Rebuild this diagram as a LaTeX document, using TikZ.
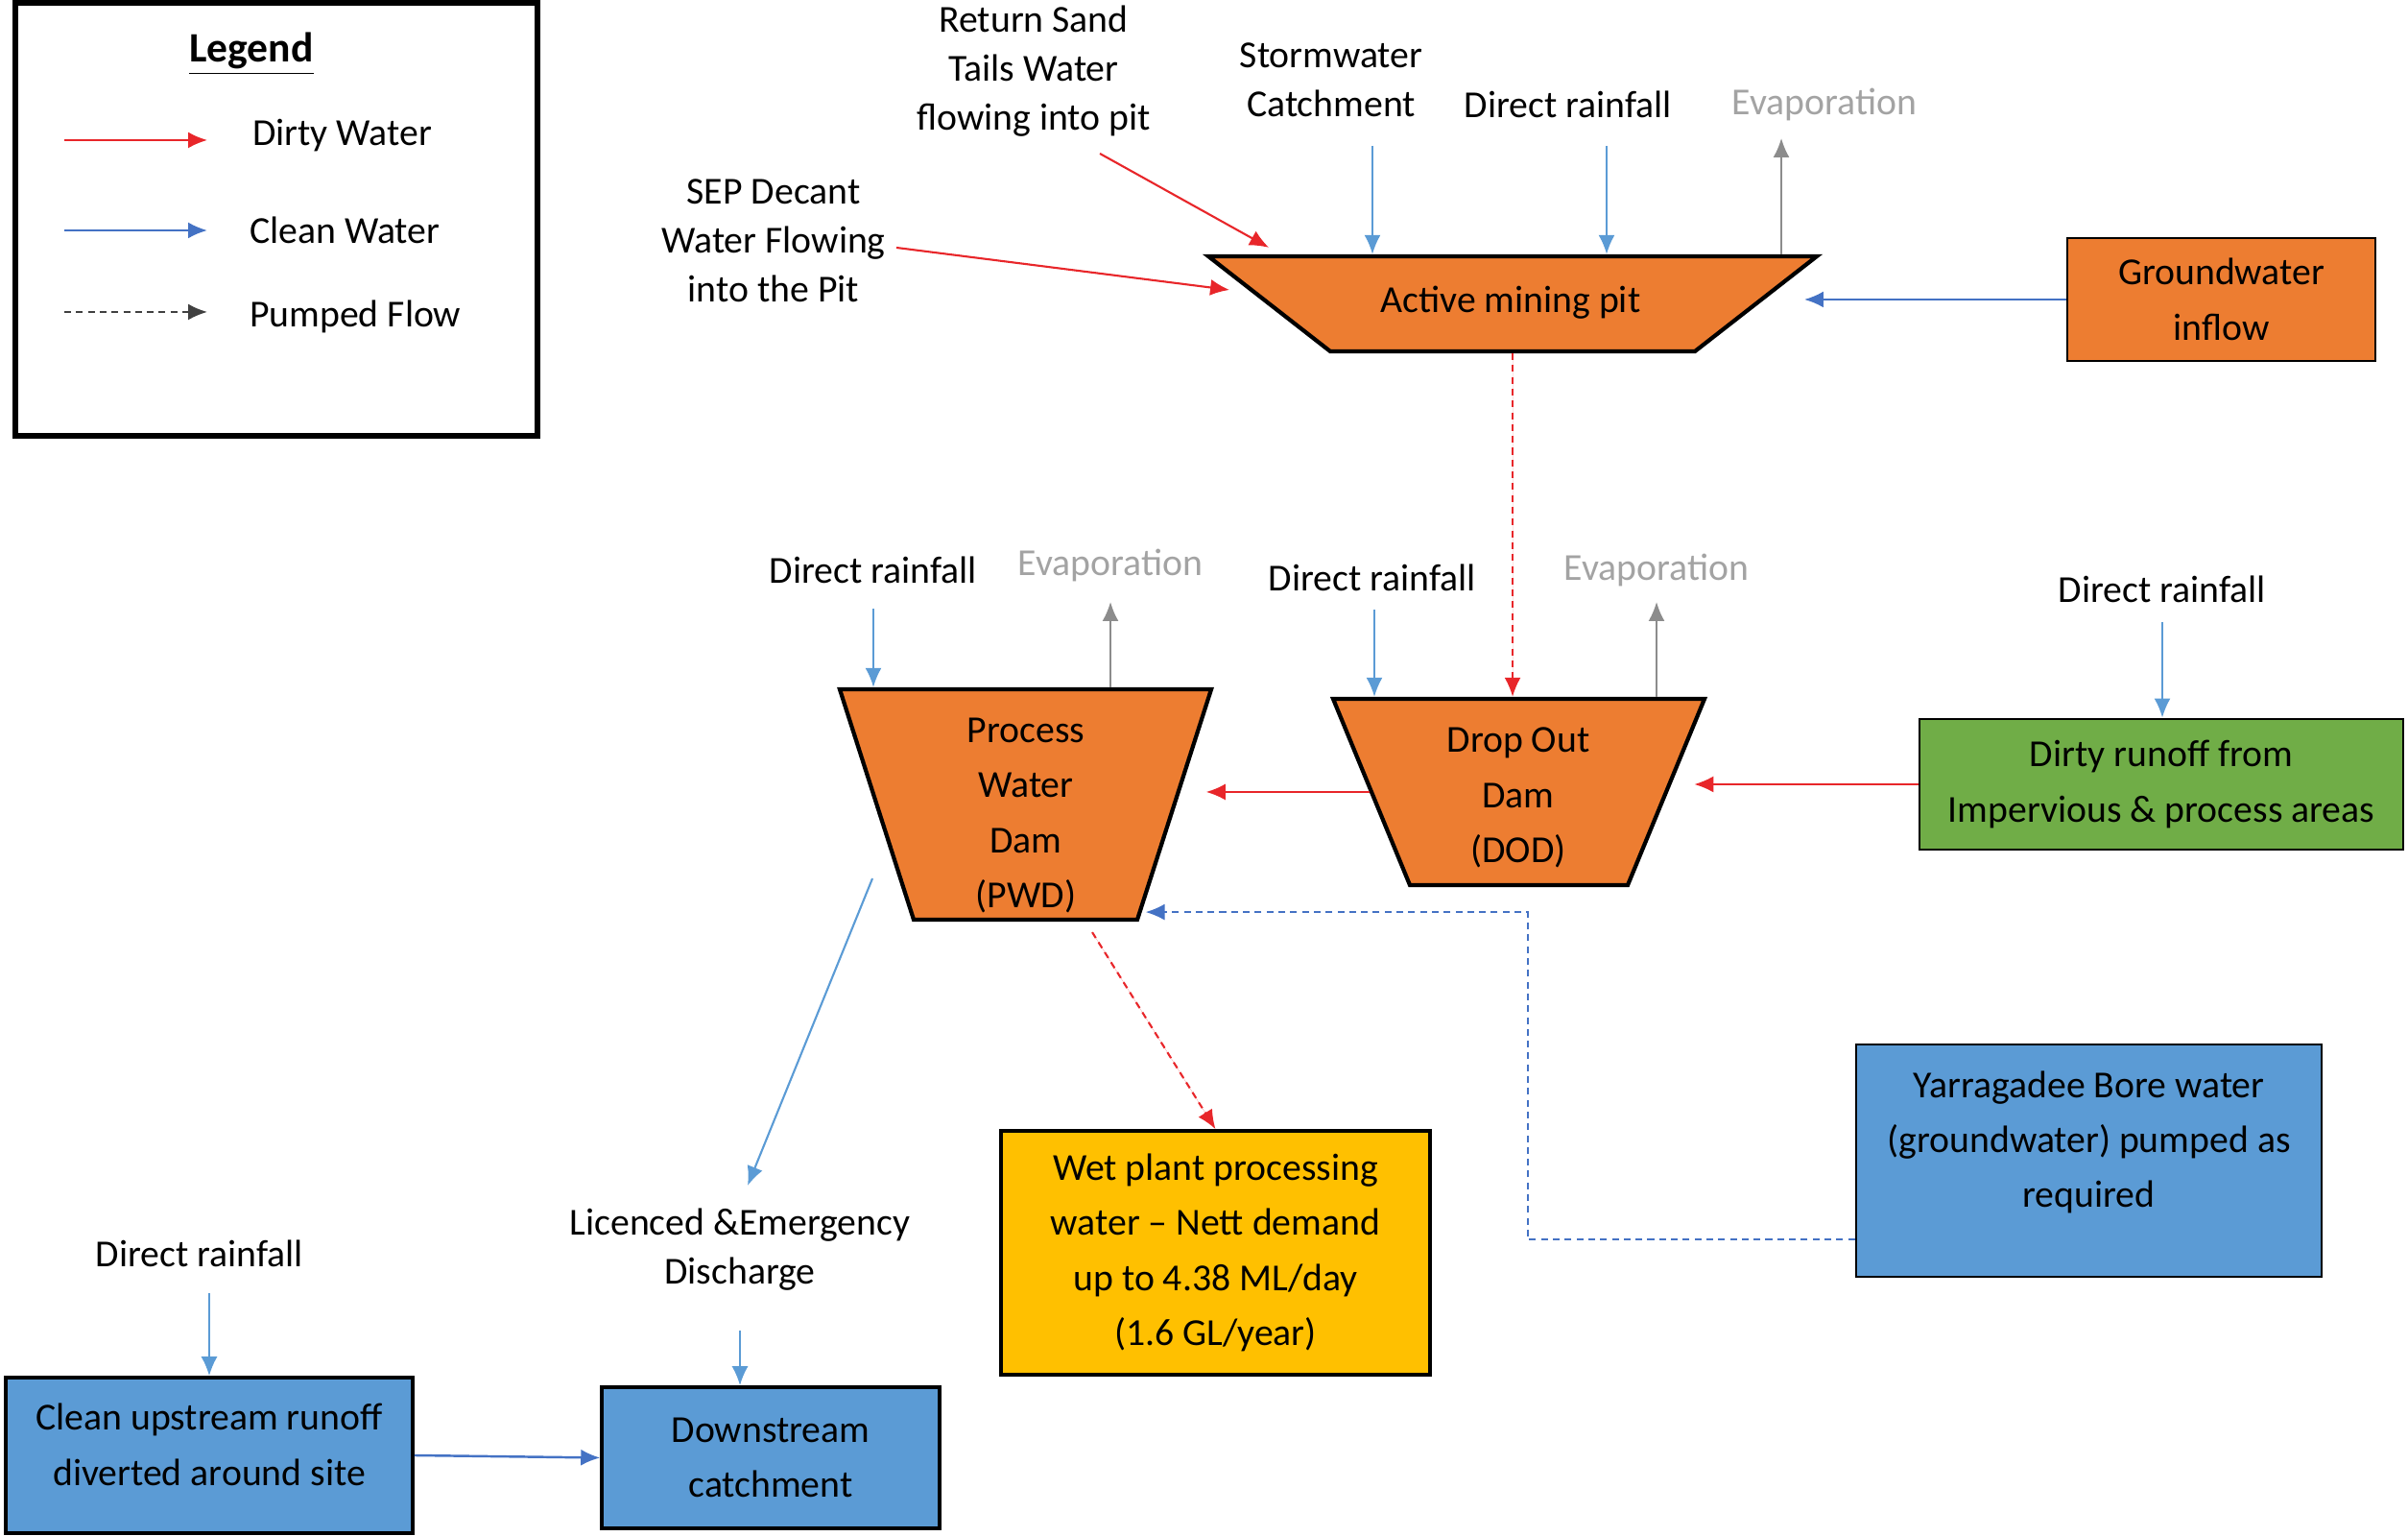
\documentclass[tikz,border=0pt]{standalone}
\usepackage{fontspec}
\setmainfont{Carlito}
\usetikzlibrary{shapes.geometric,arrows.meta,calc,positioning}

\definecolor{pitorange}{HTML}{ED7D31}
\definecolor{runoffgreen}{HTML}{70AD47}
\definecolor{boxblue}{HTML}{5B9BD5}
\definecolor{plantyellow}{HTML}{FFC000}
\definecolor{rainblue}{HTML}{5B9BD5}
\definecolor{cleanblue}{HTML}{4472C4}
\definecolor{dirtyred}{HTML}{E8262A}
\definecolor{evapgrey}{HTML}{8C8C8C}
\definecolor{evaptext}{HTML}{A3A3A3}

\tikzset{
  lbl/.style={font=\fontsize{11.3}{14.5}\selectfont, align=center, inner sep=1pt},
  boxtext/.style={font=\fontsize{11.3}{16.3}\selectfont, align=center},
  dambox/.style={trapezium, shape border rotate=180, draw=black, line width=1.2pt,
    fill=pitorange, inner sep=0pt, text depth=0cm},
  flowbox/.style={boxtext, rectangle, draw=black, line width=1pt},
  tip/.style={-{Latex[length=2mm,width=1.7mm]}},
  dirty/.style={tip, draw=dirtyred, fill=dirtyred, line width=0.6pt},
  rain/.style={tip, draw=rainblue, line width=0.6pt},
  cleanflow/.style={tip, draw=cleanblue, line width=0.7pt},
  evap/.style={tip, draw=evapgrey, line width=0.6pt},
  pumpdirty/.style={dirty, dash pattern=on 2pt off 1.5pt},
  pumpclean/.style={cleanflow, line width=0.6pt, dash pattern=on 2pt off 1.5pt},
  pumplegend/.style={tip, draw=black!75, line width=0.6pt, dash pattern=on 2pt off 1.5pt}
}

\begin{document}
\begin{tikzpicture}
\useasboundingbox (0,0) rectangle (25.09,16);

% legend
\node[draw=black, line width=1.5pt, minimum width=5.44cm, minimum height=4.51cm] (legend) at (2.88,13.715) {};
\node[font=\fontsize{12.4}{15}\selectfont\bfseries] (legtitle) at (2.62,15.44) {\underline{Legend}};
\node[lbl, anchor=west] (legdirty) at (2.59,14.59) {Dirty Water};
\node[lbl, anchor=west] (legclean) at (2.56,13.60) {Clean Water};
\node[lbl, anchor=west] (legpump) at (2.56,12.70) {Pumped Flow};
\draw[dirty] ($(legdirty.west)+(-1.92,-0.05)$) -- ++(1.49,0);
\draw[cleanflow] ($(legclean.west)+(-1.89,0)$) -- ++(1.49,0);
\draw[pumplegend] ($(legpump.west)+(-1.89,0.05)$) -- ++(1.49,0);

% active mining pit
\node[dambox, trapezium angle=37.94, text width=3.80cm, text height=0.99cm] (pit) at (15.76,12.835) {};
\node[boxtext] (pittext) at (15.74,12.85) {Active mining pit};
\node[flowbox, fill=pitorange, line width=0.8pt, minimum width=3.21cm, minimum height=1.28cm] (gw) at (23.145,12.88) {Groundwater\\inflow};

\node[lbl] (retsand) at (10.77,15.26) {Return Sand\\Tails Water\\flowing into pit};
\node[lbl] (sepdec) at (8.06,13.49) {SEP Decant\\Water Flowing\\into the Pit};
\node[lbl] (storm) at (13.87,15.165) {Stormwater\\Catchment};
\node[lbl] (rainpit) at (16.34,14.91) {Direct rainfall};
\node[lbl, text=evaptext] (evappit) at (19.01,14.91) {Evaporation};

% dams
\node[dambox, trapezium angle=72.2, text width=2.33cm, text height=2.40cm] (pwd) at (10.685,7.62) {};
\node[boxtext] (pwdtext) at (10.69,7.505) {Process\\Water\\Dam\\(PWD)};
\node[dambox, trapezium angle=67.59, text width=2.27cm, text height=1.94cm] (dod) at (15.825,7.75) {};
\node[boxtext] (dodtext) at (15.82,7.69) {Drop Out\\Dam\\(DOD)};
\node[flowbox, fill=runoffgreen, line width=0.8pt, minimum width=5.04cm, minimum height=1.36cm] (runoff) at (22.52,7.83) {Dirty runoff from\\Impervious \& process areas};

\node[lbl] (rainpwd) at (9.10,10.06) {Direct rainfall};
\node[lbl, text=evaptext] (evappwd) at (11.57,10.11) {Evaporation};
\node[lbl] (raindod) at (14.30,9.98) {Direct rainfall};
\node[lbl, text=evaptext] (evapdod) at (17.26,10.06) {Evaporation};
\node[lbl] (raingreen) at (22.53,9.86) {Direct rainfall};

% lower boxes
\node[flowbox, fill=boxblue, line width=0.8pt, minimum width=4.85cm, minimum height=2.42cm] (bore) at (21.765,3.91) {Yarragadee Bore water\\(groundwater) pumped as\\required\\[-1.3mm]\mbox{}};
\node[flowbox, fill=plantyellow, minimum width=4.47cm, minimum height=2.54cm] (wet) at (12.665,2.95) {Wet plant processing\\water \textendash{} Nett demand\\up to 4.38 ML/day\\(1.6 GL/year)};
\node[lbl] (discharge) at (7.71,2.98) {Licenced \&Emergency\\Discharge};
\node[flowbox, fill=boxblue, minimum width=3.52cm, minimum height=1.47cm] (down) at (8.03,0.815) {Downstream\\catchment};
\node[flowbox, fill=boxblue, minimum width=4.24cm, minimum height=1.62cm] (clean) at (2.18,0.84) {Clean upstream runoff\\diverted around site\\[-3.5mm]\mbox{}};
\node[lbl] (rainclean) at (2.08,2.94) {Direct rainfall};

% free ends
\coordinate (retsandout) at (11.46,14.40);
\coordinate (sepdecout) at (9.34,13.42);
\coordinate (stormout) at (14.30,14.48);
\coordinate (rainpitout) at (16.74,14.48);
\coordinate (evappitin) at (18.56,14.56);
\coordinate (rainpwdout) at (9.10,9.66);
\coordinate (evappwdin) at (11.57,9.73);
\coordinate (raindodout) at (14.32,9.65);
\coordinate (evapdodin) at (17.26,9.73);
\coordinate (raingreenout) at (22.53,9.52);
\coordinate (raincleanout) at (2.18,2.53);
\coordinate (dischargein) at (7.79,3.65);
\coordinate (dischargeout) at (7.71,2.14);
\coordinate (pwdin) at ($(pwd.south)+(1.25,0.10)$);

% flows into the pit
\draw[dirty] (retsandout) -- ($(pit.north)+(-2.54,0.07)$);
\draw[dirty] (sepdecout) -- ($(pit.west)+(-0.38,0.145)$);
\draw[rain] (stormout) -- (stormout |- pit.north);
\draw[rain] (rainpitout) -- (rainpitout |- pit.north);
\draw[evap] (evappitin |- pit.north) -- (evappitin);
\draw[cleanflow] (gw.west) -- ($(gw.west -| pit.east)+(0.47,0)$);
\draw[pumpdirty] (pit.south) -- (pit.south |- dod.north);

% dams
\draw[rain] (rainpwdout) -- (rainpwdout |- pwd.north);
\draw[evap] (evappwdin |- pwd.north) -- (evappwdin);
\draw[rain] (raindodout) -- (raindodout |- dod.north);
\draw[evap] (evapdodin |- dod.north) -- (evapdodin);
\draw[rain] (raingreenout) -- (raingreenout |- runoff.north);
\draw[dirty] (dod.west) -- ($(dod.west -| pwd.east)+(0.31,0)$);
\draw[dirty] (runoff.west) -- ($(runoff.west -| dod.east)+(0.27,0)$);
\draw[pumpclean] ($(bore.south west)+(0,0.40)$) -- ++(-3.41,0) |- (pwdin);

% outflows
\draw[pumpdirty] ($(pwd.south)+(0.695,-0.11)$) -- (wet.north);
\draw[rain] ($(pwd.south)+(-1.595,0.45)$) -- (dischargein);
\draw[rain] (dischargeout) -- (dischargeout |- down.north);
\draw[rain] (raincleanout) -- (raincleanout |- clean.north);
\draw[cleanflow] (clean.east) -- (down.west);

\end{tikzpicture}
\end{document}
